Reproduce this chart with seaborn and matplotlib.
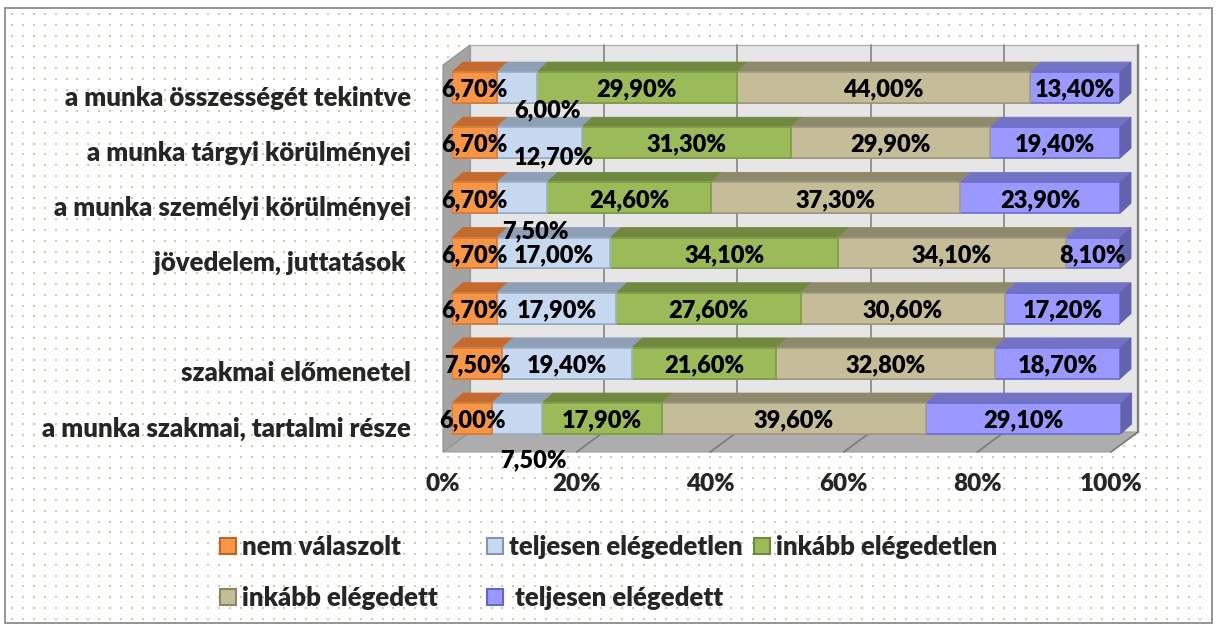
import numpy as np
import pandas as pd
import matplotlib
matplotlib.use("Agg")
import matplotlib.pyplot as plt
import matplotlib.transforms as mtransforms
from matplotlib.patches import Polygon, Patch, Rectangle
from matplotlib.lines import Line2D
import seaborn as sns

# ---- data -------------------------------------------------------------
categories = [
    "a munka összességét tekintve",
    "a munka tárgyi körülményei",
    "a munka személyi körülményei",
    "jövedelem, juttatások ",
    "",
    "szakmai előmenetel",
    "a munka szakmai, tartalmi része",
]
series_names = [
    "nem válaszolt",
    "teljesen elégedetlen",
    "inkább elégedetlen",
    "inkább elégedett",
    "teljesen elégedett",
]
nem_valaszolt = [6.7, 6.7, 6.7, 6.7, 6.7, 7.5, 6.0]
teljesen_elegedetlen = [6.0, 12.7, 7.5, 17.0, 17.9, 19.4, 7.5]
inkabb_elegedetlen = [29.9, 31.3, 24.6, 34.1, 27.6, 21.6, 17.9]
inkabb_elegedett = [44.0, 29.9, 37.3, 34.1, 30.6, 32.8, 39.6]
teljesen_elegedett = [13.4, 19.4, 23.9, 8.1, 17.2, 18.7, 29.1]
tick_values = [0, 20, 40, 60, 80, 100]
tick_labels = ["0%", "20%", "40%", "60%", "80%", "100%"]

# ---- style ------------------------------------------------------------
face_colors = ["#F79646", "#C6D9F1", "#9BBB59", "#C4BD97", "#9999FF"]
top_colors = ["#C56A2E", "#8E9FB6", "#71893F", "#8E896C", "#7373C6"]
side_color = "#6262AE"
edge_colors = ["#D8782F", "#9BB0CC", "#7E9B45", "#A29C7A", "#6C6CD0"]
legend_edges = ["#C5641F", "#8496AE", "#6E8A38", "#8C8766", "#6666C8"]

sns.set_style("white")
plt.rcParams["font.family"] = ["Lato", "DejaVu Sans"]
WEIGHT = "heavy"
FS_CAT = 18.5
FS_VAL = 17
FS_TICK = 17.5
FS_LEG = 18.5

W, H = 1219, 630
fig = plt.figure(figsize=(W / 100, H / 100), dpi=100)
fig.patch.set_facecolor("white")


def px_box(left, top, right, bottom):
    return [left / W, 1 - bottom / H, (right - left) / W, (bottom - top) / H]


# dotted background and outer frame
bg = fig.add_axes([0, 0, 1, 1], zorder=0)
bg.set_xlim(0, W)
bg.set_ylim(H, 0)
bg.axis("off")
gx, gy = np.meshgrid(np.arange(12, 1210, 10.9), np.arange(14, 620, 10.8))
bg.scatter(gx.ravel(), gy.ravel(), s=2.4, marker="s", color="#D1CAA8",
           linewidths=0)
bg.add_patch(Rectangle((5, 8), 1207, 615, fill=False, edgecolor="#8C8C8C",
                       lw=1.3))

# ---- main axes ----------------------------------------------------------
ax = fig.add_axes(px_box(452, 57, 1120, 444), zorder=1)
ax.patch.set_visible(False)

df = pd.DataFrame({
    "kategória": categories,
    series_names[0]: nem_valaszolt,
    series_names[1]: teljesen_elegedetlen,
    series_names[2]: inkabb_elegedetlen,
    series_names[3]: inkabb_elegedett,
    series_names[4]: teljesen_elegedett,
})
cum = df[series_names].cumsum(axis=1)
bar_w = 0.56

# stacked bars: draw the running totals from the widest to the narrowest
for k in reversed(range(len(series_names))):
    sns.barplot(x=cum[series_names[k]], y=df["kategória"], order=categories,
                orient="h", color=face_colors[k], edgecolor=edge_colors[k],
                linewidth=1.2, width=bar_w, saturation=1, errorbar=None,
                ax=ax, zorder=3)

ax.set_xlim(0, 100)
ax.set_ylim(6.462, -0.553)
ax.set(xlabel="", ylabel="")
sns.despine(ax=ax, left=True, bottom=True)

ident = mtransforms.IdentityTransform()
T = ax.transData

# 3-D box: back wall, floor, left wall (pixel depth offsets)
FRONT = np.array([-9.0, -8.0])
BACK = np.array([18.0, 12.0])
(ax0, ay0), (ax1, ay1) = ax.transAxes.transform([(0, 0), (1, 1)])

wall = [(ax0 + BACK[0], ay0 + BACK[1]), (ax1 + BACK[0], ay0 + BACK[1]),
        (ax1 + BACK[0], ay1 + BACK[1]), (ax0 + BACK[0], ay1 + BACK[1])]
ax.add_patch(Polygon(wall, closed=True, transform=ident, fc="#E6E6E6",
                     ec="#B0B0B0", lw=1, zorder=0.5, clip_on=False))
for t in tick_values[1:]:
    xt = T.transform((t, 0))[0]
    col = "#7F7F7F" if t == 100 else "#8C8C8C"
    ax.add_line(Line2D([xt + BACK[0]] * 2, [ay0 + BACK[1], ay1 + BACK[1]],
                       transform=ident, color=col, lw=1.6 if t == 100 else 1.3,
                       zorder=0.8, clip_on=False))

floor = [(ax0 + FRONT[0], ay0 + FRONT[1]), (ax1 + FRONT[0], ay0 + FRONT[1]),
         (ax1 + BACK[0], ay0 + BACK[1]), (ax0 + BACK[0], ay0 + BACK[1])]
ax.add_patch(Polygon(floor, closed=True, transform=ident, fc="#ADADAD",
                     ec="#A0A0A0", lw=0.8, zorder=0.6, clip_on=False))
for t in tick_values[1:]:
    xt = T.transform((t, 0))[0]
    ax.add_line(Line2D([xt + FRONT[0], xt + BACK[0]],
                       [ay0 + FRONT[1], ay0 + BACK[1]], transform=ident,
                       color="#7A7A7A", lw=1.2, zorder=0.8, clip_on=False))

left_wall = [(ax0 + FRONT[0], ay0 + FRONT[1]), (ax0 + FRONT[0], ay1 + FRONT[1]),
             (ax0 + BACK[0], ay1 + BACK[1]), (ax0 + BACK[0], ay0 + BACK[1])]
ax.add_patch(Polygon(left_wall, closed=True, transform=ident, fc="#A3A3A3",
                     ec="#909090", lw=0.8, zorder=0.7, clip_on=False))

# bar depth: top faces and the right-hand end cap
DX, DY = 11, 10
for i in range(len(categories)):
    left = 0.0
    for k, name in enumerate(series_names):
        right = left + df.loc[i, name]
        (x0, ya), (x1, yb) = T.transform([(left, i - bar_w / 2),
                                          (right, i + bar_w / 2)])
        ytop, ybot = max(ya, yb), min(ya, yb)
        top = [(x0, ytop), (x1, ytop), (x1 + DX, ytop + DY), (x0 + DX, ytop + DY)]
        ax.add_patch(Polygon(top, closed=True, transform=ident,
                             fc=top_colors[k], ec=top_colors[k], lw=0.6,
                             zorder=2, clip_on=False))
        if k == len(series_names) - 1:
            side = [(x1, ybot), (x1, ytop), (x1 + DX, ytop + DY),
                    (x1 + DX, ybot + DY)]
            ax.add_patch(Polygon(side, closed=True, transform=ident,
                                 fc=side_color, ec=side_color, lw=0.6,
                                 zorder=2, clip_on=False))
        left = right

# value labels (a few narrow segments carry their label below the bar)
label_nudge = {(0, 1): (31, -21), (1, 1): (15, -13), (2, 1): (14, -31),
               (6, 1): (16, -40)}
for i in range(len(categories)):
    left = 0.0
    for k, name in enumerate(series_names):
        v = df.loc[i, name]
        dx, dy = label_nudge.get((i, k), (0, 0))
        tr = mtransforms.offset_copy(T, fig=fig, x=dx, y=dy, units="dots")
        txt = f"{v:.2f}".replace(".", ",") + "%"
        ax.text(left + v / 2, i, txt, transform=tr, ha="center",
                va="center_baseline", fontsize=FS_VAL, fontweight=WEIGHT,
                color="black", zorder=5, clip_on=False)
        left += v

# axis tick labels
ax.set_xticks(tick_values, tick_labels)
ax.tick_params(axis="x", length=0, pad=21, labelsize=FS_TICK)
ax.tick_params(axis="y", length=0, pad=29.5, labelsize=FS_CAT)
for lab in ax.get_xticklabels():
    lab.set_fontweight(WEIGHT)
    lab.set_transform(lab.get_transform()
                      + mtransforms.Affine2D().translate(-9, 0))
for lab in ax.get_yticklabels():
    lab.set_fontweight(WEIGHT)
    lab.set_transform(lab.get_transform()
                      + mtransforms.Affine2D().translate(0, -8))

# legend: three columns laid out like the chart's legend grid
handles = [Patch(facecolor=face_colors[k], edgecolor=legend_edges[k], lw=1.5,
                 label=series_names[k]) for k in range(5)]
handles[4].set_label(" " + series_names[4])
columns = [(220, [0, 3]), (487, [1, 4]), (754, [2])]
for x_px, idx in columns:
    fig.legend(handles=[handles[j] for j in idx], loc="upper left",
               bbox_to_anchor=(x_px / W, 1 - 535 / H), frameon=False,
               borderpad=0, borderaxespad=0, handlelength=0.62,
               handleheight=0.62, handletextpad=0.22, labelspacing=1.05,
               prop={"size": FS_LEG, "weight": WEIGHT})

fig.savefig("out.png", dpi=100)
